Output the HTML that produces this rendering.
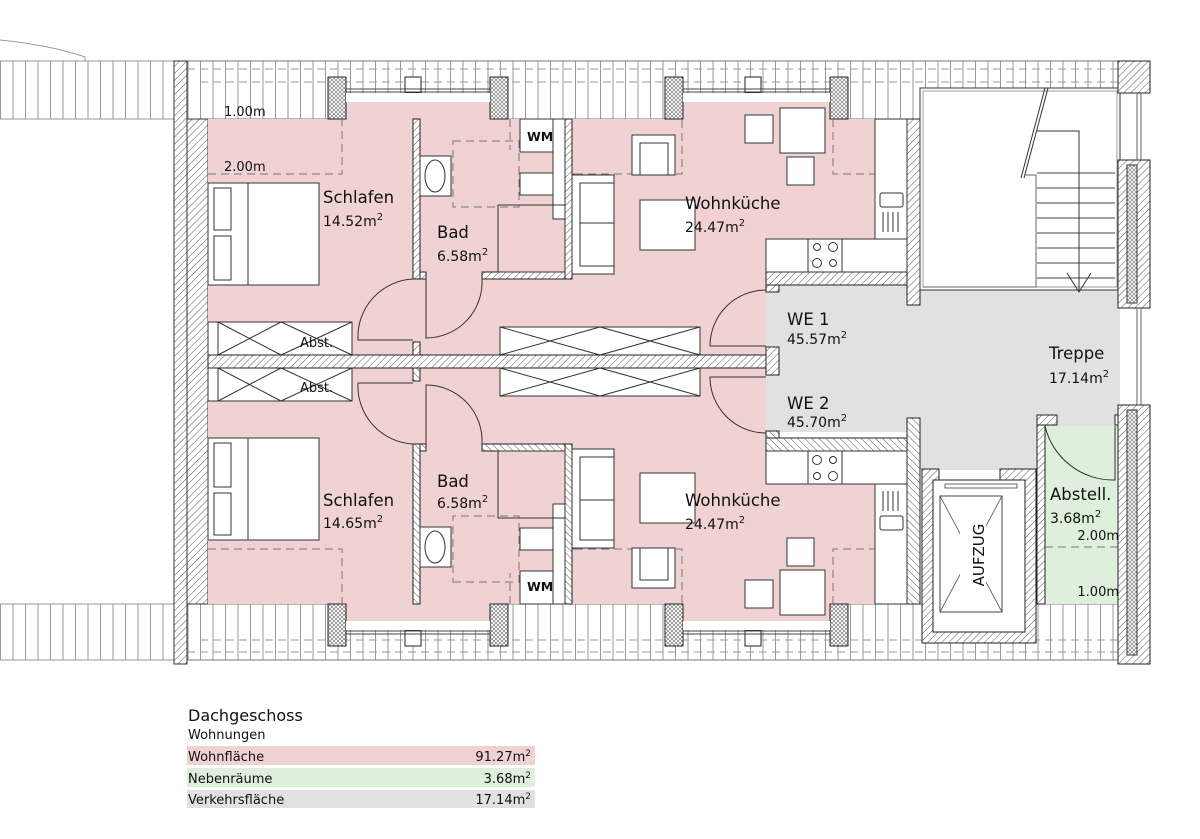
<!DOCTYPE html>
<html><head><meta charset="utf-8"><style>
html,body{margin:0;padding:0;background:#fff}
svg{display:block}
text{font-family:"DejaVu Sans","Liberation Sans",sans-serif;fill:#111}
</style></head><body>
<svg width="1200" height="839" viewBox="0 0 1200 839" xmlns="http://www.w3.org/2000/svg">
<defs>
<pattern id="h" width="5" height="5" patternUnits="userSpaceOnUse" patternTransform="rotate(45)">
<rect width="5" height="5" fill="#fff"/><line x1="0" y1="0" x2="0" y2="5" stroke="#555" stroke-width="1"/></pattern>
<pattern id="x" width="4" height="4" patternUnits="userSpaceOnUse">
<rect width="4" height="4" fill="#fff"/><path d="M0 0L4 4M4 0L0 4" stroke="#666" stroke-width="0.6"/></pattern>
<pattern id="v" width="12.5" height="10" patternUnits="userSpaceOnUse">
<rect width="12.5" height="10" fill="#fff"/><line x1="0.5" y1="0" x2="0.5" y2="10" stroke="#999" stroke-width="1"/></pattern>
</defs>

<path d="M0 40 Q50 45 85 57 L85 61" fill="none" stroke="#999"/>
<rect x="0" y="61" width="174" height="58" fill="url(#v)" stroke="#999"/>
<rect x="0" y="604" width="174" height="56" fill="url(#v)" stroke="#999"/>

<rect x="187" y="61" width="931" height="58" fill="url(#v)" stroke="#777"/>
<rect x="187" y="604" width="931" height="56" fill="url(#v)" stroke="#777"/>
<g stroke="#999" stroke-dasharray="8,5" fill="none">
<line x1="187" y1="69" x2="1118" y2="69"/><line x1="200" y1="82" x2="1118" y2="82"/>
<line x1="187" y1="652" x2="1118" y2="652"/><line x1="200" y1="640" x2="1118" y2="640"/>
</g>

<rect x="174" y="61" width="13" height="603" fill="url(#h)" stroke="#333"/>
<rect x="187" y="119" width="21" height="485" fill="url(#h)" stroke="#333"/>

<path d="M766 285 L920 285 L920 290 L1120 290 L1120 426 L1045 426 L1045 470 L920 470 L920 432 L766 432 Z" fill="#e1e1e1"/>
<rect x="1045" y="426" width="75" height="178" fill="#def0dc"/>

<g id="apt">
<path d="M208 119 L345 119 L345 102 L490 102 L490 119 L682 119 L682 102 L832 102 L832 119 L908 119 L908 272 L766 272 L766 355 L208 355 Z" fill="#f0d2d3"/>
<g stroke="#222" fill="#fff">
<rect x="328" y="77" width="18" height="42" fill="url(#x)"/>
<rect x="405" y="77" width="16" height="16" />
<rect x="490" y="77" width="18" height="42" fill="url(#x)"/>
<rect x="665" y="77" width="18" height="42" fill="url(#x)"/>
<rect x="745" y="77" width="16" height="16"/>
<rect x="830" y="77" width="18" height="42" fill="url(#x)"/>
</g>
<rect x="346" y="93" width="144" height="9" fill="#fff"/>
<rect x="683" y="93" width="147" height="9" fill="#fff"/>
<g stroke="#444" fill="none">
<line x1="346" y1="89" x2="490" y2="89"/><line x1="346" y1="92" x2="490" y2="92"/>
<line x1="683" y1="89" x2="830" y2="89"/><line x1="683" y1="92" x2="830" y2="92"/>
</g>
<g stroke="#777" stroke-dasharray="8,5" fill="none">
<path d="M208 174 L342 174 L342 119"/>
<path d="M575 174 L632 174 M676 174 L682 174 L682 119"/>
<path d="M833 119 L833 174 L908 174"/>
<path d="M453 141 L519 141 L519 207 L453 207 Z"/>
<path d="M510 119 L510 150 M519 174 L575 174"/>
</g>
<g fill="url(#h)" stroke="#222">
<rect x="413" y="119" width="7" height="160"/>
<rect x="420" y="272" width="6" height="7"/>
<rect x="413" y="342" width="7" height="13"/>
<rect x="565" y="119" width="7" height="160"/>
<rect x="482" y="272" width="83" height="7"/>
<rect x="766" y="272" width="154" height="13"/>
<rect x="766" y="285" width="13" height="7"/>
<rect x="907" y="119" width="13" height="186"/>
</g>
<g stroke="#333" fill="#fff">
<rect x="420" y="156" width="31" height="40"/>
<ellipse cx="435" cy="176" rx="10" ry="16" fill="#fff"/>
<rect x="520" y="119" width="33" height="33"/>
<rect x="520" y="173" width="38" height="22"/>
<rect x="553" y="119" width="12" height="100"/>
<rect x="498" y="205" width="67" height="67" fill="none"/>
</g>
<g stroke="#333" fill="#fff">
<rect x="208" y="183" width="111" height="102"/>
<line x1="248" y1="183" x2="248" y2="285"/>
<rect x="214" y="188" width="17" height="42"/>
<rect x="214" y="236" width="17" height="44"/>
</g>
<g stroke="#333" fill="#fff">
<rect x="208" y="322" width="10" height="33"/>
<rect x="218" y="322" width="134" height="33"/>
<path d="M218 322 L281 355 M218 355 L281 322 M281 322 L352 355 M281 355 L352 322"/>
<rect x="500" y="327" width="200" height="28"/>
<path d="M500 327 L600 355 M500 355 L600 327 M600 327 L700 355 M600 355 L700 327"/>
</g>
<g stroke="#333" fill="#fff">
<rect x="572" y="175" width="42" height="99"/>
<rect x="580" y="183" width="34" height="40"/><rect x="580" y="223" width="34" height="43"/>
<rect x="640" y="200" width="55" height="50"/>
<rect x="632" y="135" width="43" height="40"/>
<rect x="640" y="143" width="28" height="32"/>
<rect x="780" y="108" width="45" height="45"/>
<rect x="745" y="115" width="28" height="28"/>
<rect x="787" y="157" width="27" height="28"/>
</g>
<g stroke="#333" fill="#fff">
<rect x="875" y="119" width="32" height="120"/>
<rect x="880" y="193" width="23" height="14" rx="2"/>
<path d="M883 212v20M888 212v20M893 212v20M898 212v20"/>
<rect x="766" y="239" width="141" height="33"/>
<rect x="808" y="239" width="34" height="33"/>
<circle cx="817" cy="247" r="3.5"/><circle cx="833" cy="247" r="4.5"/>
<circle cx="817" cy="263" r="4.5"/><circle cx="833" cy="263" r="3.5"/>
</g>
<g stroke="#333" fill="none">
<path d="M413 279 A58 58 0 0 0 358 340 L413 340"/>
<path d="M426 279 L426 338 A56 56 0 0 0 482 279"/>
<path d="M766 290 A56 56 0 0 0 710 346 L766 346"/>
</g>
</g>
<use href="#apt" transform="translate(0,723) scale(1,-1)"/>

<rect x="208" y="355" width="558" height="13" fill="url(#h)" stroke="#222"/>
<rect x="766" y="347" width="13" height="28" fill="url(#h)" stroke="#222"/>

<rect x="920" y="88" width="200" height="202" fill="#fff" stroke="#333"/>
<rect x="923" y="91" width="194" height="196" fill="none" stroke="#999"/>
<path d="M1045 88 L1021 178 M1048 88 L1024 178" stroke="#333"/>
<path d="M1024 175 L1036 175 L1036 287 L923 287" fill="none" stroke="#666"/>
<g stroke="#444">
<line x1="1037" y1="173" x2="1115" y2="173"/><line x1="1037" y1="188" x2="1115" y2="188"/>
<line x1="1037" y1="203" x2="1115" y2="203"/><line x1="1037" y1="218" x2="1115" y2="218"/>
<line x1="1037" y1="233" x2="1115" y2="233"/><line x1="1037" y1="248" x2="1115" y2="248"/>
<line x1="1037" y1="263" x2="1115" y2="263"/><line x1="1037" y1="278" x2="1115" y2="278"/>
</g>
<path d="M1037 131 L1079 131 L1079 291 M1067 273 L1079 292 L1091 273" fill="none" stroke="#333"/>

<path d="M922 469 L939 469 L939 480 L933 480 L933 632 L1025 632 L1025 480 L1000 480 L1000 469 L1036 469 L1036 643 L922 643 Z" fill="url(#h)" stroke="#222"/>
<rect x="933" y="480" width="92" height="152" fill="#fff" stroke="#222"/>
<rect x="940" y="496" width="62" height="116" fill="#fff" stroke="#444"/>
<path d="M940 496 L1002 612 M1002 496 L940 612" stroke="#555" stroke-width="0.8"/>
<rect x="960" y="526" width="26" height="58" fill="#fff"/>
<rect x="945" y="484" width="72" height="4" fill="#fff" stroke="#666"/>
<text transform="translate(984,555) rotate(-90)" font-size="15" text-anchor="middle">AUFZUG</text>

<rect x="1037" y="415" width="8" height="189" fill="url(#h)" stroke="#222"/>
<rect x="1037" y="415" width="20" height="10" fill="url(#h)" stroke="#222"/>
<rect x="1115" y="415" width="6" height="10" fill="#fff" stroke="#222"/>
<path d="M1045 426 A70 70 0 0 0 1115 480 L1115 426" fill="none" stroke="#333"/>
<line x1="1045" y1="547" x2="1120" y2="547" stroke="#777" stroke-dasharray="8,5"/>

<g fill="url(#h)" stroke="#222">
<rect x="1118" y="61" width="32" height="32"/>
<rect x="1118" y="160" width="32" height="148"/>
<rect x="1118" y="405" width="32" height="259"/>
</g>
<rect x="1127" y="165" width="10" height="138" fill="url(#x)" stroke="#333"/>
<rect x="1127" y="410" width="10" height="245" fill="url(#x)" stroke="#333"/>
<path d="M1137 93 L1137 160 M1141 93 L1141 160 M1137 308 L1137 405 M1141 308 L1141 405" stroke="#666"/>

<g font-size="16.5">
<text x="323" y="203">Schlafen</text><text x="437" y="238">Bad</text>
<text x="685" y="209">Wohnküche</text>
<text x="787" y="325">WE 1</text><text x="787" y="409">WE 2</text>
<text x="1049" y="359">Treppe</text>
<text x="323" y="506">Schlafen</text><text x="437" y="487">Bad</text>
<text x="685" y="506">Wohnküche</text>
<text x="1050" y="500">Abstell.</text>
</g>
<g font-size="14">
<text x="323" y="226">14.52m<tspan dy="-6" font-size="10">2</tspan></text>
<text x="437" y="261">6.58m<tspan dy="-6" font-size="10">2</tspan></text>
<text x="685" y="232">24.47m<tspan dy="-6" font-size="10">2</tspan></text>
<text x="787" y="344">45.57m<tspan dy="-6" font-size="10">2</tspan></text>
<text x="787" y="427">45.70m<tspan dy="-6" font-size="10">2</tspan></text>
<text x="1049" y="383">17.14m<tspan dy="-6" font-size="10">2</tspan></text>
<text x="323" y="528">14.65m<tspan dy="-6" font-size="10">2</tspan></text>
<text x="437" y="508">6.58m<tspan dy="-6" font-size="10">2</tspan></text>
<text x="685" y="529">24.47m<tspan dy="-6" font-size="10">2</tspan></text>
<text x="1050" y="523">3.68m<tspan dy="-6" font-size="10">2</tspan></text>
</g>
<g font-size="13">
<text x="224" y="116">1.00m</text><text x="224" y="171">2.00m</text>
<text x="1119" y="540" text-anchor="end">2.00m</text><text x="1119" y="596" text-anchor="end">1.00m</text>
<text x="300" y="347" font-size="13">Abst.</text><text x="300" y="392" font-size="13">Abst.</text>
<text x="527" y="141" font-size="12.5" font-weight="bold">WM</text>
<text x="527" y="591" font-size="12.5" font-weight="bold">WM</text>
</g>

<text x="188" y="721" font-size="16">Dachgeschoss</text>
<text x="188" y="739" font-size="13">Wohnungen</text>
<rect x="187" y="746" width="348" height="19" fill="#f0d2d3"/>
<rect x="187" y="768" width="348" height="19" fill="#def0dc"/>
<rect x="187" y="790" width="348" height="18" fill="#e1e1e1"/>
<g font-size="13">
<text x="188" y="761">Wohnfläche</text><text x="188" y="783">Nebenräume</text><text x="188" y="804">Verkehrsfläche</text>
<text x="531" y="761" text-anchor="end">91.27m<tspan dy="-5" font-size="9">2</tspan></text>
<text x="531" y="783" text-anchor="end">3.68m<tspan dy="-5" font-size="9">2</tspan></text>
<text x="531" y="804" text-anchor="end">17.14m<tspan dy="-5" font-size="9">2</tspan></text>
</g>
</svg>
</body></html>
